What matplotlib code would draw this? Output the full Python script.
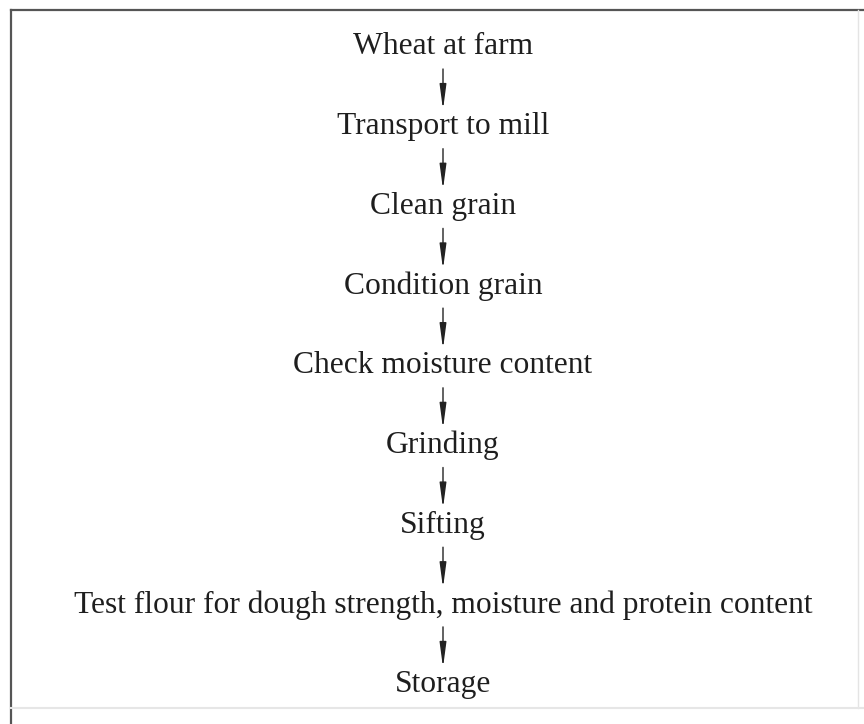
import matplotlib.pyplot as plt

# etapas do fluxograma (de cima para baixo)
steps = ["Wheat at farm",
         "Transport to mill",
         "Clean grain",
         "Condition grain",
         "Check moisture content",
         "Grinding",
         "Sifting",
         "Test flour for dough strength, moisture and protein content",
         "Storage"]

plt.rc('font', family=['Liberation Serif', 'DejaVu Serif'])

W, H = 864, 724
fig = plt.figure(figsize=(W/100, H/100), dpi=100)
ax = fig.add_axes([0, 0, 1, 1])
ax.set_xlim(0, W)
ax.set_ylim(H, 0)
ax.axis('off')

# moldura (scan: topo e esquerda escuros, resto bem claro)
ax.plot([11, W], [10, 10], color='#555555', lw=1.6)
ax.plot([11, 11], [10, H], color='#555555', lw=1.6)
ax.plot([858, 858], [10, 708], color='#e4e4e4', lw=1.0)
ax.plot([11, W], [708, 708], color='#e6e6e6', lw=1.5)

cx = 443
y0, dy = 47, 79.7
for i, s in enumerate(steps):
    y = y0 + i*dy
    ax.text(cx, y, s, ha='center', va='center', fontsize=22.7,
            color='#1e1e1e')
    if i < len(steps) - 1:
        ax.annotate("", xy=(cx, y + dy - 17), xytext=(cx, y + 22),
                    arrowprops=dict(arrowstyle='-|>,head_length=0.75,head_width=0.1',
                                    color='#222222', lw=1.0,
                                    mutation_scale=20, shrinkA=0, shrinkB=0))

plt.savefig("out.png", dpi=100)
plt.close()
